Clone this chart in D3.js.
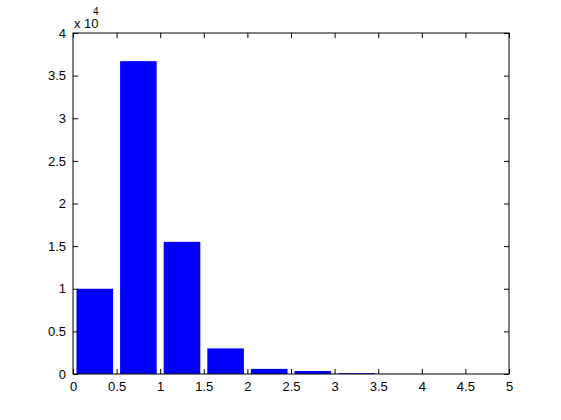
<!DOCTYPE html>
<html><head><meta charset="utf-8">
<script src="https://cdn.jsdelivr.net/npm/d3@7"></script>
<style>body{margin:0;background:#fff}svg{display:block}text{font-family:"Liberation Sans",Arial,sans-serif;font-size:13px;fill:#000}</style>
</head><body>
<script>
const centers = [0.25,0.75,1.25,1.75,2.25,2.75,3.25,3.75,4.25,4.75];
const counts = [10000,36700,15500,3000,600,350,100,10,0,0];
const xTicks = [0,0.5,1,1.5,2,2.5,3,3.5,4,4.5,5];
const yTicks = [0,0.5,1,1.5,2,2.5,3,3.5,4];
const yScaleExp = 4;

const W=561,H=420, L=73,R=509,T=33,B=374;
const svg=d3.select("body").append("svg").attr("width",W).attr("height",H);
const x=d3.scaleLinear().domain([0,5]).range([L,R]);
const y=d3.scaleLinear().domain([0,4]).range([B,T]);
const bw = x(0.42)-x(0);

svg.selectAll("rect.bar").data(centers).enter().append("rect")
  .attr("x",(d)=>x(d)-bw/2).attr("width",bw)
  .attr("y",(d,i)=>y(counts[i]/Math.pow(10,yScaleExp)))
  .attr("height",(d,i)=>B-y(counts[i]/Math.pow(10,yScaleExp)))
  .attr("fill","#0000ff");

const tl=5;
const fmt=d=>String(d);
svg.append("g").attr("transform",`translate(0,${B})`)
  .call(d3.axisBottom(x).tickValues(xTicks).tickSizeInner(-tl).tickSizeOuter(0).tickPadding(8).tickFormat(fmt));
svg.append("g").attr("transform",`translate(0,${T})`)
  .call(d3.axisTop(x).tickValues(xTicks).tickSizeInner(-tl).tickSizeOuter(0).tickFormat(""));
svg.append("g").attr("transform",`translate(${L},0)`)
  .call(d3.axisLeft(y).tickValues(yTicks).tickSizeInner(-tl).tickSizeOuter(0).tickPadding(7).tickFormat(fmt));
svg.append("g").attr("transform",`translate(${R},0)`)
  .call(d3.axisRight(y).tickValues(yTicks).tickSizeInner(-tl).tickSizeOuter(0).tickFormat(""));
svg.selectAll(".tick line").attr("stroke","#000");
svg.selectAll(".tick text").style("font-size","13px").attr("fill","#000")
  .style("font-family",'"Liberation Sans",Arial,sans-serif');
svg.selectAll(".domain").remove();
svg.append("rect").attr("x",L).attr("y",T).attr("width",R-L).attr("height",B-T)
  .attr("fill","none").attr("stroke","#000").attr("stroke-width",1);

svg.append("text").attr("x",L+1).attr("y",T-5).text("x 10");
svg.append("text").attr("x",L+20).attr("y",T-18).style("font-size","10px").text(String(yScaleExp));
</script>
</body></html>
